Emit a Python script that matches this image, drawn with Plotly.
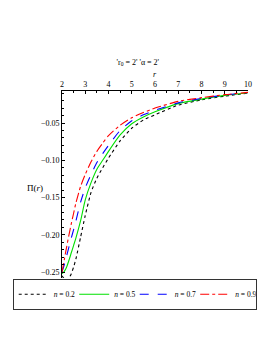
import plotly.graph_objects as go

r_vals = [2, 2.1, 2.2, 2.3, 2.4, 2.5, 2.6, 2.8, 3.0, 3.25, 3.5, 3.75, 4.0, 4.5, 5.0, 5.5, 6, 7, 8, 9, 10]

pi_n02 = [-0.255, -0.259, -0.261, -0.258, -0.252, -0.243, -0.232, -0.203, -0.174, -0.143, -0.124, -0.110,
          -0.097, -0.074, -0.057, -0.046, -0.039, -0.026, -0.019, -0.014, -0.010]
pi_n05 = [-0.252, -0.249, -0.243, -0.234, -0.224, -0.214, -0.204, -0.181, -0.153, -0.130, -0.112, -0.100,
          -0.088, -0.066, -0.051, -0.042, -0.035, -0.024, -0.018, -0.013, -0.0095]
pi_n07 = [-0.250, -0.240, -0.228, -0.216, -0.204, -0.193, -0.181, -0.156, -0.137, -0.119, -0.103, -0.091,
          -0.080, -0.060, -0.047, -0.039, -0.033, -0.023, -0.017, -0.0125, -0.0092]
pi_n09 = [-0.250, -0.233, -0.216, -0.200, -0.185, -0.171, -0.157, -0.135, -0.119, -0.102, -0.088, -0.077,
          -0.067, -0.053, -0.043, -0.036, -0.030, -0.021, -0.016, -0.012, -0.009]

series = [
    ("<i>n</i> = 0.2", pi_n02, "#000000", "dot"),
    ("<i>n</i> = 0.5", pi_n05, "#00e000", "solid"),
    ("<i>n</i> = 0.7", pi_n07, "#0000ff", "dash"),
    ("<i>n</i> = 0.9", pi_n09, "#ff0000", "dashdot"),
]

x_ticks = [2, 3, 4, 5, 6, 7, 8, 9, 10]
y_ticks = [-0.05, -0.10, -0.15, -0.20, -0.25]
y_tick_labels = ["\u22120.05", "\u22120.10", "\u22120.15", "\u22120.20", "\u22120.25"]

FONT = "Liberation Serif"
# page body has an 8px margin: figure is sized/margined to compensate
W, H = 265, 345
ML, MR, MT, MB = 54, 25, 83, 75

fig = go.Figure()
for name, vals, color, dash in series:
    fig.add_trace(go.Scatter(
        x=r_vals, y=vals, mode="lines", name=name,
        line=dict(color=color, dash=dash, width=1.1, shape="spline", smoothing=0.6),
    ))

fig.update_layout(
    width=W, height=H,
    margin=dict(l=ML, r=MR, t=MT, b=MB, autoexpand=False),
    paper_bgcolor="white", plot_bgcolor="white",
    font=dict(family=FONT, size=8, color="black"),
    title=dict(text="'r<sub>0</sub> = 2' '\u03b1 = 2'", x=0.49, xanchor="center",
               y=1 - 54 / H, yanchor="middle", font=dict(family=FONT, size=8)),
    showlegend=True,
    legend=dict(orientation="h", x=-0.265, xanchor="left", y=-0.004, yanchor="top",
                bordercolor="#333333", borderwidth=1, font=dict(family=FONT, size=7.5),
                entrywidth=15.5, itemwidth=30, tracegroupgap=0),
)

fig.update_xaxes(
    range=[2, 10], side="top", showline=True, linecolor="black", linewidth=1,
    showgrid=False, zeroline=False, ticks="inside", ticklen=3, tickcolor="black",
    tickvals=x_ticks, ticktext=[str(v) for v in x_ticks],
    minor=dict(dtick=0.5, ticks="inside", ticklen=2, tickcolor="black"),
    tickfont=dict(family=FONT, size=8), automargin=False,
)
fig.update_yaxes(
    range=[-0.2578, -0.0071], showline=True, linecolor="black", linewidth=1,
    showgrid=False, zeroline=False, ticks="inside", ticklen=3, tickcolor="black",
    tickvals=y_ticks, ticktext=y_tick_labels,
    minor=dict(dtick=0.01, tick0=0, ticks="inside", ticklen=2, tickcolor="black"),
    tickfont=dict(family=FONT, size=8), automargin=False,
)

fig.add_annotation(text="<i>r</i>", xref="paper", yref="paper", x=0.5, y=1.0856,
                   showarrow=False, font=dict(family=FONT, size=8), yanchor="middle")
fig.add_annotation(text="\u03a0(<i>r</i>)", xref="paper", yref="paper", x=-0.2, y=0.48,
                   showarrow=False, font=dict(family=FONT, size=9))

fig.write_html("out.html")
